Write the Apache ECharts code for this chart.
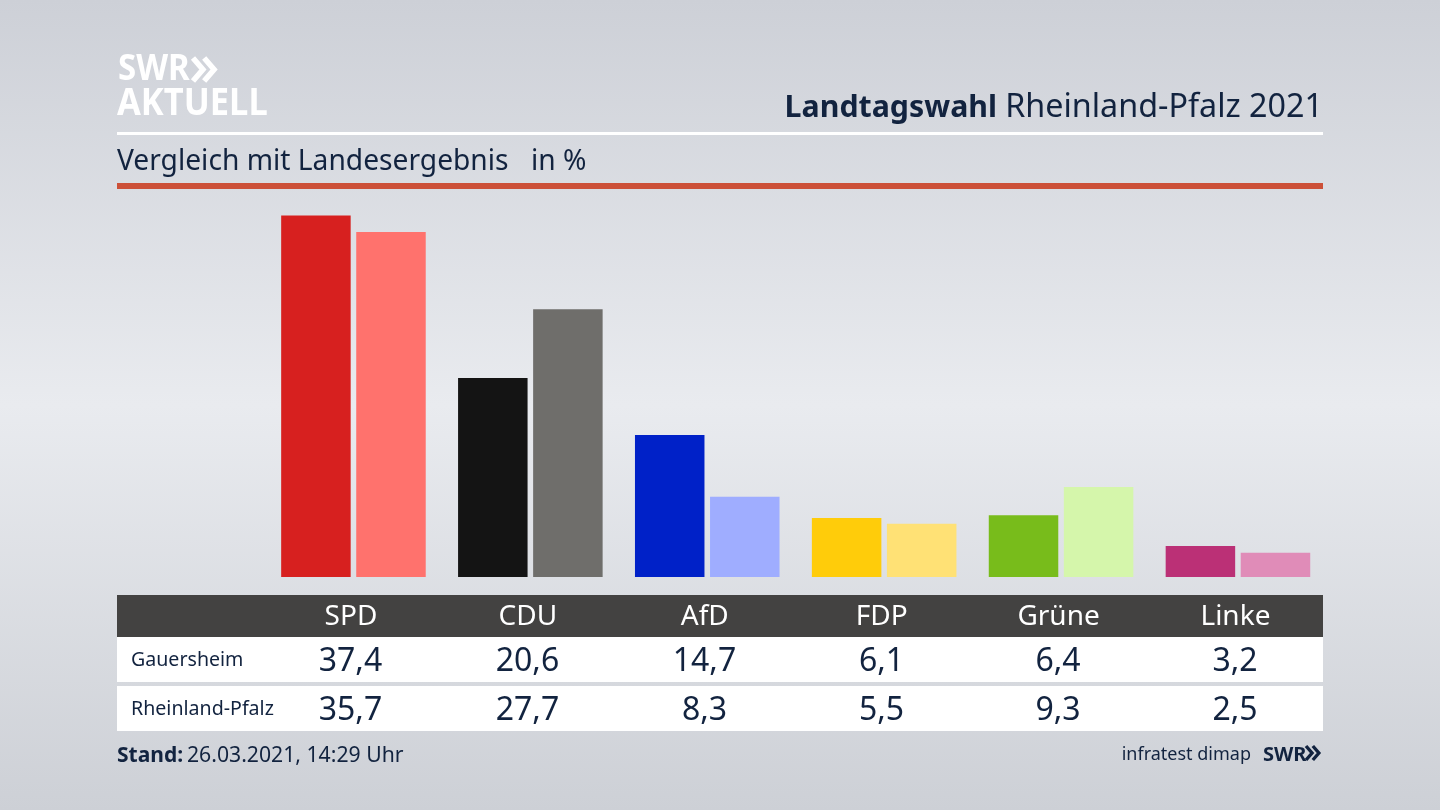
<!DOCTYPE html>
<html>
<head>
<meta charset="utf-8">
<title>Landtagswahl Rheinland-Pfalz 2021</title>
<script src="https://cdn.jsdelivr.net/npm/echarts@6/dist/echarts.min.js"></script>
<style>
html, body { margin: 0; padding: 0; }
#chart { width: 1440px; height: 810px; }
</style>
</head>
<body>
<div id="chart"></div>
<script>
// Werte
var parties = ['SPD', 'CDU', 'AfD', 'FDP', 'Grüne', 'Linke'];
var gauersheim = [37.4, 20.6, 14.7, 6.1, 6.4, 3.2];
var rheinlandPfalz = [35.7, 27.7, 8.3, 5.5, 9.3, 2.5];
var gauersheimLabels = ['37,4', '20,6', '14,7', '6,1', '6,4', '3,2'];
var rheinlandPfalzLabels = ['35,7', '27,7', '8,3', '5,5', '9,3', '2,5'];
var darkColors = ['#d7201f', '#141414', '#0021c8', '#ffcc0a', '#78bc1b', '#bb3076'];
var lightColors = ['#ff726d', '#6f6e6b', '#9fadff', '#ffe175', '#d5f6ab', '#e08cb8'];

var FONT = '"Noto Sans"';
var NAVY = '#12233f';
var columnCenters = [350.5, 527.5, 704.5, 881.5, 1058, 1235];

function bars(name, values, colors) {
	return {
		type: 'bar',
		name: name,
		barWidth: 69.5,
		barGap: '8%',
		silent: true,
		data: values.map(function(v, i) {
			return { value: v, itemStyle: { color: colors[i] } };
		})
	};
}

function rect(x, y, w, h, fill) {
	return { type: 'rect', z: 1, shape: { x: x, y: y, width: w, height: h }, style: { fill: fill } };
}

function text(x, y, str, size, fill, align, weight) {
	return {
		type: 'text', z: 5, x: x, y: y,
		style: {
			text: str, fill: fill, font: (weight || 'normal') + ' ' + size + 'px ' + FONT,
			align: align || 'left', verticalAlign: 'middle'
		}
	};
}

// Logo-Schrift ist schmaler und hoeher als Noto Sans
function tall(el, sy) {
	el.scaleY = sy;
	return el;
}

function chevrons(x, y, h, w, color) {
	var p = [];
	[0, w * 0.62].forEach(function(dx) {
		p.push({
			type: 'polyline', z: 5,
			shape: { points: [[x + dx, y], [x + dx + w * 0.55, y + h / 2], [x + dx, y + h]] },
			style: { stroke: color, lineWidth: h * 0.24, fill: null }
		});
	});
	return p;
}

var elements = [
	rect(117, 132, 1206, 3, '#ffffff'),
	rect(117, 183, 1206, 6, '#cc5038'),
	rect(117, 595, 1206, 42, '#434241'),
	rect(117, 637, 1206, 45, '#ffffff'),
	rect(117, 686, 1206, 45, '#ffffff'),
	tall(text(118, 70, 'SWR', 33, '#ffffff', 'left', 'bold'), 1.1),
	tall(text(117, 104, 'AKTUELL', 34.5, '#ffffff', 'left', 'bold'), 1.1),
	text(1323, 108, 'Rheinland-Pfalz 2021', 32.3, NAVY, 'right'),
	text(997, 108, 'Landtagswahl', 30.3, NAVY, 'right', 'bold'),
	text(117, 162, 'Vergleich mit Landesergebnis', 28.2, NAVY),
	text(531, 162, 'in %', 28.2, NAVY),
	text(131, 660, 'Gauersheim', 19.6, NAVY),
	text(131, 709, 'Rheinland-Pfalz', 19.6, NAVY),
	text(117, 756, 'Stand:', 21, NAVY, 'left', 'bold'),
	text(187, 756, '26.03.2021, 14:29 Uhr', 21.2, NAVY),
	text(1251, 755, 'infratest dimap', 18, NAVY, 'right'),
	text(1263, 755, 'SWR', 20, NAVY, 'left', 'bold')
];
elements = elements.concat(chevrons(193, 58, 23, 18, '#ffffff'), chevrons(1306, 746, 14, 11, NAVY));

parties.forEach(function(p, i) {
	elements.push(text(columnCenters[i], 662, gauersheimLabels[i], 32, NAVY, 'center'));
	elements.push(text(columnCenters[i], 711, rheinlandPfalzLabels[i], 32, NAVY, 'center'));
});

var chart = echarts.init(document.getElementById('chart'), null, { renderer: 'canvas' });
chart.setOption({
	animation: false,
	backgroundColor: new echarts.graphic.LinearGradient(0, 0, 0, 1, [
		{ offset: 0, color: '#cdd0d7' },
		{ offset: 0.5, color: '#e9ebef' },
		{ offset: 1, color: '#cdd0d6' }
	]),
	grid: { left: 265, top: 190.4, width: 1061.4, height: 386.6 },
	xAxis: {
		type: 'category',
		data: parties,
		axisLine: { show: false },
		axisTick: { show: false },
		axisLabel: {
			color: '#ffffff', fontFamily: FONT, fontSize: 28,
			margin: 26, padding: [0, 5, 0, 0]
		},
		z: 6
	},
	yAxis: { type: 'value', min: 0, max: 40, show: false },
	series: [
		bars('Gauersheim', gauersheim, darkColors),
		bars('Rheinland-Pfalz', rheinlandPfalz, lightColors)
	],
	graphic: { elements: elements }
});
</script>
</body>
</html>
